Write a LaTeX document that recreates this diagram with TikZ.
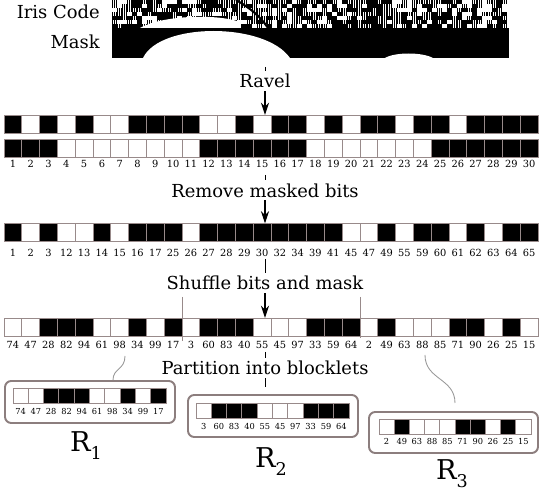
\documentclass[tikz,border=0pt]{standalone}
\usepackage{fontspec}
\setmainfont{DejaVu Serif}
\usetikzlibrary{arrows.meta}

\definecolor{cellgray}{RGB}{152,138,138}
\definecolor{boxgray}{RGB}{140,126,126}
\newcommand{\labfont}{\fontsize{10.2}{12}\selectfont}
\newcommand{\bitnumfont}{\fontsize{5.6}{6}\selectfont}
\newcommand{\blocknumfont}{\fontsize{4.7}{5}\selectfont}
\newcommand{\rfont}{\fontsize{15.5}{18}\selectfont}
\newcommand{\rsub}[1]{R\raisebox{-0.28em}{\fontsize{10}{11}\selectfont #1}}

\tikzset{
  bit/.style={draw=cellgray, line width=0.5pt, inner sep=0pt, outer sep=0pt,
    minimum width=0.356cm, minimum height=0.36cm},
  smallbit/.style={bit, minimum width=0.306cm, minimum height=0.30cm},
  bit0/.style={fill=white},
  bit1/.style={fill=black},
  bitnum/.style={font=\bitnumfont, anchor=base, inner sep=0pt},
  blocknum/.style={font=\blocknumfont, anchor=base, inner sep=0pt},
  stage/.style={fill=white, inner sep=1.5pt, anchor=base},
  flow/.style={line width=0.6pt, -{Stealth[length=7pt,width=4.6pt]}},
  tick/.style={line width=0.5pt},
  sep/.style={draw=cellgray, line width=0.5pt},
  link/.style={draw=gray!80, line width=0.5pt},
  blockbox/.style={draw=boxgray, line width=1.1pt, rounded corners=3.5pt, inner sep=0pt},
  rname/.style={font=\rfont, anchor=base},
}

\begin{document}
\begin{tikzpicture}[x=0.02cm,y=-0.02cm,every node/.style={font=\labfont}]
\useasboundingbox (0,0) rectangle (539,490);

% iris code and mask
\pgfmathsetseed{11}
\foreach \i in {0,...,78}{
  \foreach \j in {0,...,6}{
    \pgfmathsetmacro{\r}{rnd}
    \ifdim\r pt<0.3pt
      \fill ({112+5*\i},{4*\j}) rectangle ++(5,4);
    \else\ifdim\r pt>0.55pt
      \foreach \k in {0,2,4} \fill ({112+5*\i+\k},{4*\j}) rectangle ++(1,4);
    \fi\fi
  }
}
\fill[white] (140,28) .. controls (160,16) and (215,13) .. (240,22) -- (240,28) -- cycle;
\draw[line width=1.2pt] (236,0) .. controls (250,8) and (260,16) .. (268,28);
\fill[black] (112,28) rectangle (509,58);
\fill[white] (143,58) .. controls (160,22) and (265,22) .. (290,58) -- cycle;
\fill[white] (385,58) .. controls (395,52) and (422,52) .. (433,58) -- cycle;
\node[anchor=base east, inner sep=0pt] (iris) at (100,18) {Iris Code};
\node[anchor=base east, inner sep=0pt] (mask) at (100,49) {Mask};

% raveled code and mask
\foreach \b [count=\i] in {1,0,1,0,1,0,0,1,1,1,1,0,0,1,0,1,1,0,1,0,1,1,0,1,1,0,1,1,1,1}
  \node[bit, bit\b] (a\i) at ({-4.9+17.8*\i},124) {};
\foreach \b [count=\i] in {1,1,1,0,0,0,0,0,0,0,0,1,1,1,1,1,1,0,0,0,0,0,0,0,1,1,1,1,1,1}{
  \node[bit, bit\b] (b\i) at ({-4.9+17.8*\i},148) {};
  \node[bitnum] (nb\i) at ({-4.9+17.8*\i},168) {\i};
}

% masked bits removed
\foreach \b/\n [count=\i] in {1/1,0/2,1/3,0/12,0/13,1/14,0/15,1/16,1/17,1/25,0/26,1/27,1/28,1/29,1/30,
    1/32,1/34,1/39,1/41,0/45,0/47,1/49,0/55,1/59,1/60,0/61,1/62,0/63,1/64,1/65}{
  \node[bit, bit\b] (c\i) at ({-4.9+17.8*\i},232.5) {};
  \node[bitnum] (nc\i) at ({-4.9+17.8*\i},256) {\n};
}

% shuffled
\foreach \b/\n [count=\i] in {0/74,0/47,1/28,1/82,1/94,0/61,0/98,1/34,0/99,1/17,0/3,1/60,1/83,1/40,0/55,
    0/45,0/97,1/33,1/59,1/64,0/2,1/49,0/63,0/88,0/85,1/71,1/90,0/26,1/25,0/15}{
  \node[bit, bit\b] (d\i) at ({-4.9+17.8*\i},327) {};
  \node[bitnum] (nd\i) at ({-4.9+17.8*\i},349) {\n};
}
\draw[sep] (d10.north east |- 0,297) -- (d10.south east |- 0,341);
\draw[sep] (d20.north east |- 0,297) -- (d20.south east |- 0,338);

% blocklets
\node[blockbox, minimum width=3.4cm, minimum height=0.84cm] (box1) at (90,402) {};
\foreach \b/\n [count=\i] in {0/74,0/47,1/28,1/82,1/94,0/61,0/98,1/34,0/99,1/17}{
  \node[smallbit, bit\b] (e\i) at ({5.35+15.3*\i},395.5) {};
  \node[blocknum] (ne\i) at ({5.35+15.3*\i},415) {\n};
}
\node[blockbox, minimum width=3.4cm, minimum height=0.84cm] (box2) at (273,416) {};
\foreach \b/\n [count=\i] in {0/3,1/60,1/83,1/40,0/55,0/45,0/97,1/33,1/59,1/64}{
  \node[smallbit, bit\b] (f\i) at ({188.35+15.3*\i},410.5) {};
  \node[blocknum] (nf\i) at ({188.35+15.3*\i},430) {\n};
}
\node[blockbox, minimum width=3.38cm, minimum height=0.82cm] (box3) at (453.5,432.5) {};
\foreach \b/\n [count=\i] in {0/2,1/49,0/63,0/88,0/85,1/71,1/90,0/26,1/25,0/15}{
  \node[smallbit, bit\b] (g\i) at ({371.4+15.2*\i},426.5) {};
  \node[blocknum] (ng\i) at ({371.4+15.2*\i},445) {\n};
}
\node[rname] (r1) at (86,452) {\rsub{1}};
\node[rname] (r2) at (271,468) {\rsub{2}};
\node[rname] (r3) at (452,480) {\rsub{3}};

% stages
\node[stage] (ravel) at (265,88) {Ravel};
\node[stage] (remove) at (265,197) {Remove masked bits};
\node[stage] (shuffle) at (265,290) {Shuffle bits and mask};
\node[stage] (part) at (265,375) {Partition into blocklets};

\coordinate (m1) at (265,67);
\draw[tick] (m1) -- (ravel);
\draw[flow] (ravel) -- (ravel |- a15.north);
\coordinate (m2) at (265,175);
\draw[tick] (m2) -- (remove);
\draw[flow] (remove) -- (remove |- c15.north);
\coordinate (m3) at (265,259);
\draw[tick] (m3) -- (shuffle);
\draw[flow] (shuffle) -- (shuffle |- d15.north);
\coordinate (m4) at (265,352);
\coordinate (m5) at (265,387);
\draw[tick] (m4) -- (part);
\draw[tick] (part) -- (m5);

\coordinate (k1) at (125,356);
\draw[link] (k1) .. controls +(0,14) and +(0,-12) .. (box1.north -| 113,0);
\coordinate (k3) at (425,355);
\coordinate (k4) at (455,403);
\draw[link] (k3) .. controls +(0,25) and +(0,-25) .. (k4);
\end{tikzpicture}
\end{document}
